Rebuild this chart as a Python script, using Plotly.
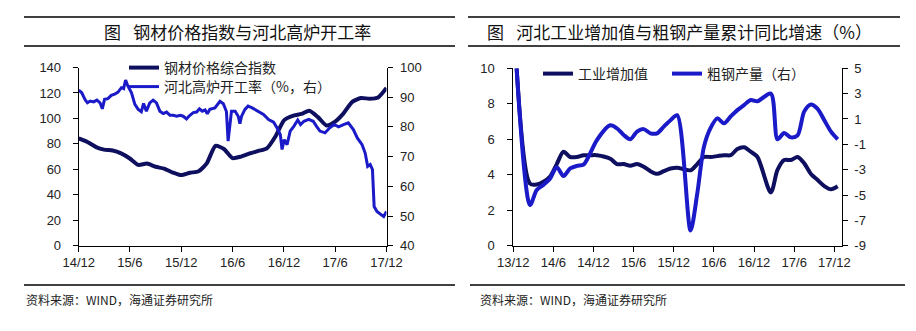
import plotly.graph_objects as go

W, H = 916, 331

# ---------------- Left chart data ----------------
price_dates = ["2014-12-01", "2015-01-01", "2015-02-01", "2015-03-01", "2015-04-01", "2015-05-01",
               "2015-06-01", "2015-07-01", "2015-08-01", "2015-09-01", "2015-10-01", "2015-11-01",
               "2015-12-01", "2016-01-01", "2016-02-01", "2016-03-01", "2016-04-01", "2016-05-01",
               "2016-06-01", "2016-07-01", "2016-08-01", "2016-09-01", "2016-10-01", "2016-11-01",
               "2016-12-01", "2017-01-01", "2017-02-01", "2017-03-01", "2017-04-01", "2017-05-01",
               "2017-06-01", "2017-07-01", "2017-08-01", "2017-09-01", "2017-10-01", "2017-11-01",
               "2017-12-01"]
price_index = [84.3, 81.5, 77.5, 75.5, 74.8, 72.5,
               68.5, 63.5, 64.5, 62.0, 60.5, 57.5,
               55.5, 57.3, 58.5, 64.7, 78.5, 76.0,
               68.8, 70.0, 72.5, 74.5, 76.5, 86.0,
               98.5, 102.0, 103.5, 106.0, 101.0, 94.5,
               97.5, 104.0, 113.0, 116.0, 115.5, 116.5,
               124.0]

furnace_dates = ["2014-12-01", "2014-12-12", "2014-12-23", "2015-01-01", "2015-01-11", "2015-01-23",
                 "2015-02-04", "2015-02-15", "2015-02-23", "2015-03-03", "2015-03-15", "2015-03-27",
                 "2015-04-08", "2015-04-20", "2015-05-02", "2015-05-10", "2015-05-17", "2015-05-25",
                 "2015-06-07", "2015-06-19", "2015-07-01", "2015-07-12", "2015-07-20", "2015-07-30",
                 "2015-08-11", "2015-08-23", "2015-09-04", "2015-09-16", "2015-09-28", "2015-10-10",
                 "2015-10-22", "2015-11-03", "2015-11-15", "2015-11-28", "2015-12-08", "2015-12-20",
                 "2016-01-01", "2016-01-13", "2016-01-25", "2016-02-04", "2016-02-14", "2016-02-24",
                 "2016-03-03", "2016-03-12", "2016-03-30", "2016-04-17", "2016-04-29", "2016-05-10",
                 "2016-05-16", "2016-05-28", "2016-06-10", "2016-06-21", "2016-06-27", "2016-07-03",
                 "2016-07-15", "2016-07-26", "2016-08-08", "2016-08-20", "2016-09-01", "2016-09-19",
                 "2016-10-07", "2016-10-25", "2016-11-06", "2016-11-18", "2016-11-24", "2016-12-02",
                 "2016-12-12", "2016-12-23", "2017-01-05", "2017-01-19", "2017-01-29", "2017-02-10",
                 "2017-02-27", "2017-03-15", "2017-03-27", "2017-04-08", "2017-04-26", "2017-05-13",
                 "2017-05-29", "2017-06-13", "2017-07-01", "2017-07-18", "2017-08-05", "2017-08-19",
                 "2017-09-05", "2017-09-16", "2017-09-25", "2017-10-04", "2017-10-12", "2017-10-18",
                 "2017-10-28", "2017-11-12", "2017-11-21", "2017-12-01"]
furnace_rate = [92.4, 91.5, 89.3, 88.1, 88.7, 88.4,
                89.0, 88.1, 86.1, 89.3, 89.5, 90.6,
                91.0, 91.7, 93.2, 92.9, 95.8, 93.8,
                91.5, 87.6, 85.9, 85.1, 87.9, 85.3,
                88.1, 89.0, 88.1, 85.3, 84.5, 85.0,
                83.9, 83.9, 83.6, 83.9, 83.6, 82.7,
                83.9, 84.8, 85.0, 86.1, 85.3, 85.7,
                84.4, 85.9, 86.4, 88.6, 87.8, 85.2,
                75.2, 85.3, 85.3, 83.6, 81.1, 83.6,
                85.9, 87.0, 86.5, 85.9, 85.3, 84.2,
                82.5, 81.6, 79.7, 77.4, 72.4, 75.7,
                74.0, 78.6, 80.2, 82.3, 80.8, 81.9,
                82.5, 81.9, 80.2, 78.6, 78.0, 79.7,
                80.8, 80.0, 80.8, 81.4, 79.1, 76.3,
                74.0, 71.2, 66.7, 67.3, 65.6, 53.2,
                51.5, 50.4, 49.8, 51.5]

left_tick_dates = ["2014-12-01", "2015-06-01", "2015-12-01", "2016-06-01", "2016-12-01", "2017-06-01", "2017-12-01"]
left_tick_text = ["14/12", "15/6", "15/12", "16/6", "16/12", "17/6", "17/12"]

# ---------------- Right chart data ----------------
months = ["13/12", "14/1", "14/2", "14/3", "14/4", "14/5", "14/6", "14/7", "14/8", "14/9", "14/10", "14/11",
          "14/12", "15/1", "15/2", "15/3", "15/4", "15/5", "15/6", "15/7", "15/8", "15/9", "15/10", "15/11",
          "15/12", "16/1", "16/2", "16/3", "16/4", "16/5", "16/6", "16/7", "16/8", "16/9", "16/10", "16/11",
          "16/12", "17/1", "17/2", "17/3", "17/4", "17/5", "17/6", "17/7", "17/8", "17/9", "17/10", "17/11",
          "17/12"]
industry_va = [10.0, None, 3.5, 3.45, 3.6, 3.9, 4.6, 5.3, 5.0, 5.0, 5.1, 5.1,
               5.1, None, 4.9, 4.6, 4.6, 4.5, 4.6, 4.45, 4.2, 4.05, 4.2, 4.35,
               4.4, None, 4.25, 4.6, 5.0, 5.0, 5.05, 5.1, 5.1, 5.45, 5.55, 5.3,
               5.0, None, 3.0, 4.27, 4.83, 4.83, 5.0, 4.64, 4.04, 3.7, 3.36, 3.18,
               3.35]
crude_steel = [5.0, None, -5.8, -4.6, -4.2, -3.7, -2.8, -3.5, -2.9, -2.7, -2.6, -1.7,
               -0.66, None, 0.5, 0.26, -0.26, -0.6, 0.0, 0.2, -0.13, -0.13, 0.4, 0.9,
               1.3, None, -7.8, -4.9, -1.2, 0.3, 1.05, 0.66, 1.2, 1.7, 2.1, 2.5,
               2.4, None, 3.0, -0.6, -0.1, -0.45, -0.3, 1.6, 2.15, 1.8, 0.9, 0.0,
               -0.6]
right_tick_labels = ["13/12", "14/6", "14/12", "15/6", "15/12", "16/6", "16/12", "17/6", "17/12"]
right_y2_ticks = [5, 3, 1, -1, -3, -5, -7, -9]

# ---------------- styling helpers ----------------
NAVY = "#0f0f5f"
BLUE = "#1a1ac8"
TICKFONT = dict(family="Arial, Liberation Sans, sans-serif", size=13, color="#222222")
CJK = "Noto Sans CJK SC, sans-serif"


def px_x(px):
    return px / W


def px_y(py):
    return 1 - py / H


idx = list(range(len(months)))
right_tickvals = [months.index(m) - 0.5 for m in right_tick_labels]

fig = go.Figure()

fig.add_trace(go.Scatter(x=price_dates, y=price_index, name="钢材价格综合指数", mode="lines",
                         line=dict(color=NAVY, width=4, shape="spline", smoothing=0.6),
                         xaxis="x", yaxis="y", legend="legend", showlegend=True))
fig.add_trace(go.Scatter(x=furnace_dates, y=furnace_rate, name="河北高炉开工率（%，右）", mode="lines",
                         line=dict(color=BLUE, width=3),
                         xaxis="x", yaxis="y2", legend="legend2", showlegend=True))
fig.add_trace(go.Scatter(x=idx, y=industry_va, name="工业增加值", mode="lines", connectgaps=True,
                         line=dict(color=NAVY, width=4, shape="spline", smoothing=0.8),
                         xaxis="x2", yaxis="y3", legend="legend3", showlegend=True))
fig.add_trace(go.Scatter(x=idx, y=crude_steel, name="粗钢产量（右）", mode="lines", connectgaps=True,
                         line=dict(color=BLUE, width=4, shape="spline", smoothing=0.8),
                         xaxis="x2", yaxis="y4", legend="legend4", showlegend=True))

axis_common = dict(showline=True, linecolor="black", linewidth=1, ticks="outside", ticklen=5,
                   tickcolor="black", showgrid=False, zeroline=False, tickfont=TICKFONT)

L_x0, L_x1 = 78.7, 386.5
R_x0, R_x1 = 513.3, 841.7
Y_top_L, Y_top_R, Y_bot = 67.5, 68.3, 245.7

legend_common = dict(bgcolor="rgba(0,0,0,0)", borderwidth=0, xanchor="left", yanchor="middle",
                     font=dict(family=CJK, size=14, color="#222222"), itemwidth=30, visible=True)

fig.update_layout(
    width=W, height=H, margin=dict(l=0, r=0, t=0, b=0, autoexpand=False),
    paper_bgcolor="white", plot_bgcolor="white", showlegend=True,
    xaxis=dict(domain=[px_x(L_x0), px_x(L_x1)], type="date", range=["2014-12-01", "2017-12-01"],
               tickvals=left_tick_dates, ticktext=left_tick_text, anchor="y", **axis_common),
    yaxis=dict(domain=[px_y(Y_bot), px_y(Y_top_L)], range=[0, 140], dtick=20, anchor="x",
               ticklabelstandoff=9, **axis_common),
    yaxis2=dict(domain=[px_y(Y_bot), px_y(Y_top_L)], range=[40, 100], dtick=10, overlaying="y",
                side="right", anchor="x", ticklabelstandoff=5, **axis_common),
    xaxis2=dict(domain=[px_x(R_x0), px_x(R_x1)], range=[-0.5, 48.6], tickvals=right_tickvals,
                ticktext=right_tick_labels, anchor="y3", **axis_common),
    yaxis3=dict(domain=[px_y(Y_bot), px_y(Y_top_R)], range=[0, 10], dtick=2, anchor="x2",
                ticklabelstandoff=10, **axis_common),
    yaxis4=dict(domain=[px_y(Y_bot), px_y(Y_top_R)], range=[-9, 5], tickvals=right_y2_ticks,
                ticktext=[str(v) for v in right_y2_ticks], overlaying="y3", side="right",
                anchor="x2", ticklabelstandoff=4, **axis_common),
    legend=dict(x=px_x(124), y=px_y(68), **legend_common),
    legend2=dict(x=px_x(124), y=px_y(87), **legend_common),
    legend3=dict(x=px_x(538), y=px_y(74), **legend_common),
    legend4=dict(x=px_x(667), y=px_y(74), **legend_common),
)

# title rules and source rules
shapes = []
for (xa, xb) in [(24, 455), (468, 900)]:
    for yy in (17, 46):
        shapes.append(dict(type="line", xref="paper", yref="paper", x0=px_x(xa), x1=px_x(xb),
                           y0=px_y(yy), y1=px_y(yy), line=dict(color="black", width=1.5)))
for (xa, xb) in [(24, 455), (470, 905)]:
    shapes.append(dict(type="line", xref="paper", yref="paper", x0=px_x(xa), x1=px_x(xb),
                       y0=px_y(285), y1=px_y(285), line=dict(color="black", width=1.5)))
fig.update_layout(shapes=shapes)

annotations = [
    dict(text="图\u2002 钢材价格指数与河北高炉开工率", x=px_x(237), y=px_y(32), xref="paper", yref="paper",
         showarrow=False, xanchor="center", yanchor="middle",
         font=dict(family=CJK, size=17, color="#111111")),
    dict(text="图\u2002 河北工业增加值与粗钢产量累计同比增速（%）", x=px_x(485), y=px_y(32), xref="paper",
         yref="paper", showarrow=False, xanchor="left", yanchor="middle",
         font=dict(family=CJK, size=17, color="#111111")),
    dict(text="资料来源：WIND，海通证券研究所", x=px_x(24), y=px_y(299), xref="paper", yref="paper",
         showarrow=False, xanchor="left", yanchor="middle",
         font=dict(family=CJK, size=12, color="#222222")),
    dict(text="资料来源：WIND，海通证券研究所", x=px_x(478), y=px_y(299), xref="paper", yref="paper",
         showarrow=False, xanchor="left", yanchor="middle",
         font=dict(family=CJK, size=12, color="#222222")),
]
fig.update_layout(annotations=annotations)

fig.write_html("out.html")
